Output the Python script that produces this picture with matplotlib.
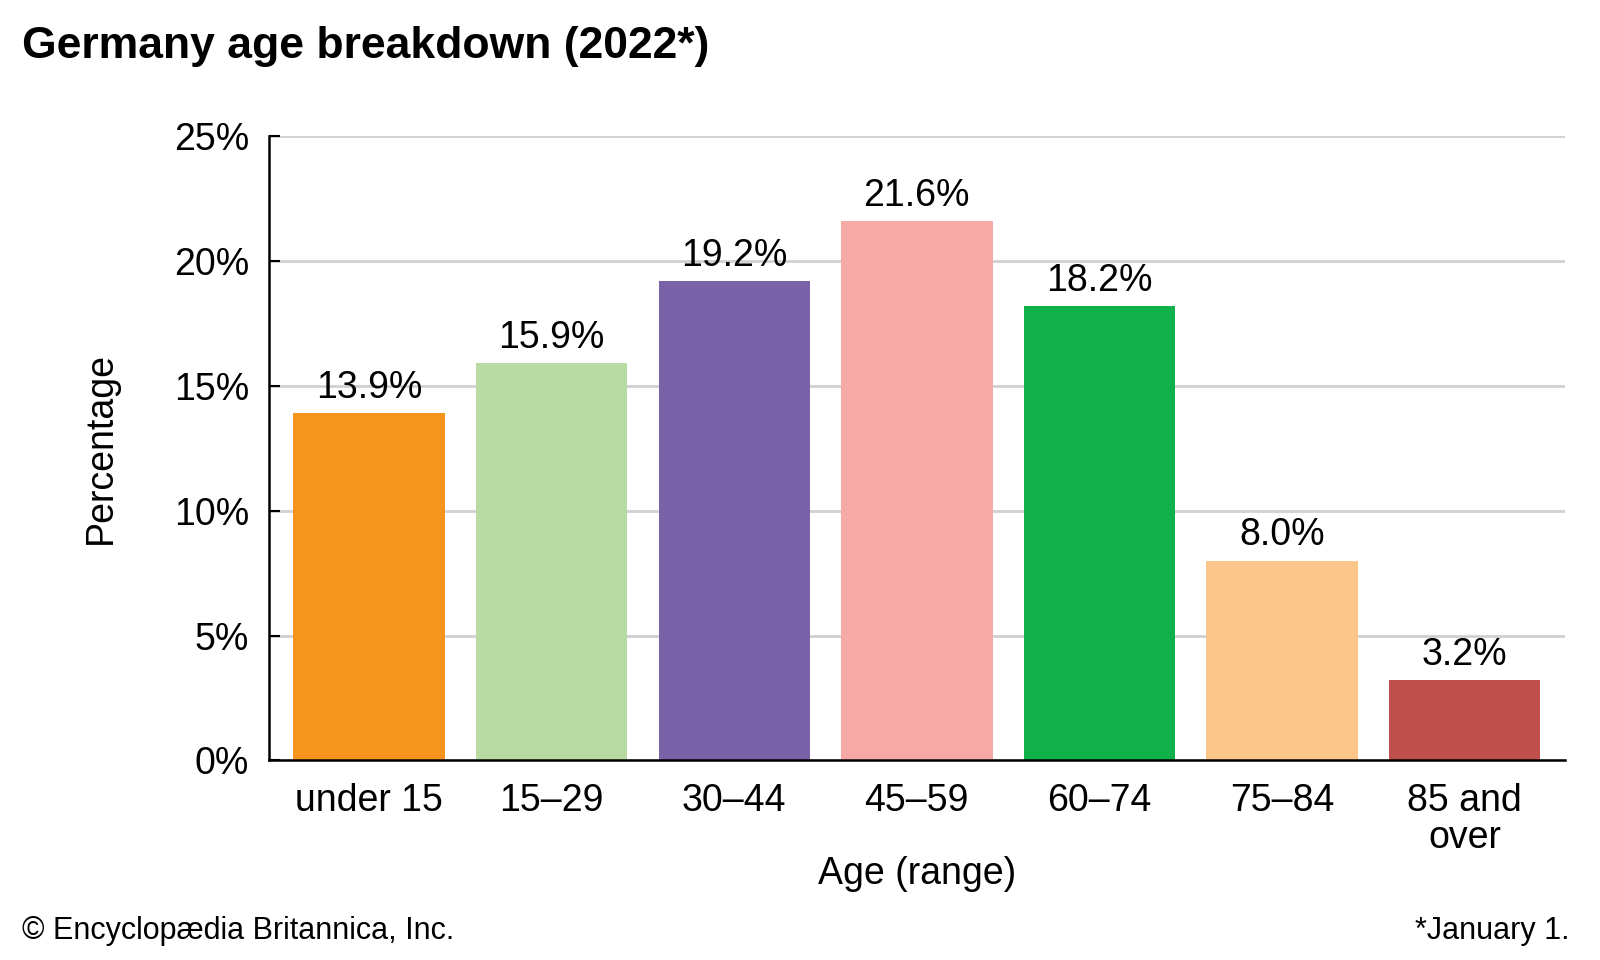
import matplotlib
matplotlib.use("Agg")
import matplotlib.pyplot as plt

plt.rcParams["font.family"] = ["Liberation Sans", "DejaVu Sans"]

categories = ["under 15", "15–29", "30–44", "45–59", "60–74", "75–84", "85 and\nover"]
values = [13.9, 15.9, 19.2, 21.6, 18.2, 8.0, 3.2]
colors = ["#F7941D", "#B8DBA3", "#7962A8", "#F6A9A5", "#10B04B", "#FCC589", "#C0504D"]

fig = plt.figure(figsize=(16, 9.6), dpi=100)
ax = fig.add_axes([0.168, 0.208, 0.81, 0.65])

x = range(len(values))
ax.bar(x, values, width=0.83, color=colors, zorder=2)
for xi, v in zip(x, values):
    ax.text(xi, v + 0.3, f"{v:.1f}%", ha="center", va="bottom", fontsize=27)

ax.set_xlim(-0.55, len(values) - 0.45)
ax.set_ylim(0, 25)
ax.set_yticks(range(0, 26, 5))
ax.set_yticklabels([f"{t}%" for t in range(0, 26, 5)], fontsize=27)
ax.set_xticks(list(x))
ax.set_xticklabels(categories, fontsize=27, linespacing=1.05)
ax.tick_params(axis="x", length=0, pad=16)
ax.tick_params(axis="y", length=8, width=1.5, direction="in", pad=14)
ax.grid(axis="y", color="#d0d0d0", lw=2, zorder=0)
for s in ["top", "right"]:
    ax.spines[s].set_visible(False)
ax.spines["left"].set_linewidth(1.8)
ax.spines["bottom"].set_linewidth(1.8)

ax.set_ylabel("Percentage", fontsize=27, labelpad=40)
ax.set_xlabel("Age (range)", fontsize=27, labelpad=0)

fig.text(0.014, 0.952, "Germany age breakdown (2022*)", fontsize=32, fontweight="bold", va="center")
fig.text(0.014, 0.03, "© Encyclopædia Britannica, Inc.", fontsize=22, va="center")
fig.text(0.981, 0.03, "*January 1.", fontsize=22, va="center", ha="right")

fig.savefig("out.png", dpi=100)
